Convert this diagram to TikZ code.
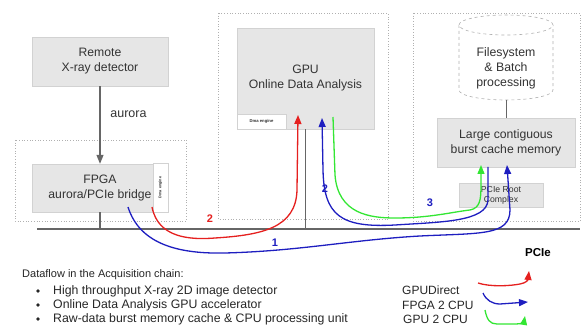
\documentclass[tikz,border=0pt]{standalone}
\usepackage{fontspec}
\setmainfont{Liberation Sans}
\usetikzlibrary{arrows.meta,calc}
\definecolor{boxgray}{HTML}{E6E6E6}
\definecolor{boxedge}{HTML}{D2D2D2}
\definecolor{txtgray}{HTML}{333333}
\definecolor{busgray}{HTML}{666666}
\definecolor{dotgray}{HTML}{B0B0B0}
\definecolor{fred}{HTML}{E5201F}
\definecolor{fblue}{HTML}{1E1EC0}
\definecolor{fgreen}{HTML}{33E633}
\begin{document}
\begin{tikzpicture}[x=1pt,y=-1pt,
  box/.style={fill=boxgray, draw=boxedge, line width=0.4pt, inner sep=0pt, align=center,
    font=\fontsize{12.2}{15}\selectfont, text=txtgray},
  dmabox/.style={fill=white, draw=boxedge, line width=0.6pt, inner sep=0pt, align=center,
    font=\fontsize{3.8}{4.2}\selectfont\bfseries, text=txtgray},
  dotbox/.style={draw=dotgray, dotted, line width=0.7pt},
  busline/.style={draw=busgray, line width=1.5pt},
  conn/.style={draw=busgray, line width=1.2pt},
  flow/.style={line width=1.3pt, -{Triangle[length=9pt,width=7pt]}},
  flowlbl/.style={font=\bfseries\fontsize{11}{12}\selectfont, inner sep=0pt},
  plain/.style={font=\fontsize{12.3}{14}\selectfont, inner sep=0pt, anchor=west, text=black!85},
  legtxt/.style={font=\fontsize{12}{14}\selectfont, inner sep=0pt, anchor=west, text=black!85}
]
\useasboundingbox (0,0) rectangle (582,329);

% dotted grouping boxes
\draw[dotbox] (15,140) rectangle (186,221);
\draw[dotbox] (218,13) rectangle (388,219);
\draw[dotbox] (413,13) rectangle (580,221);

% remote detector
\node[box, minimum width=136pt, minimum height=49pt] (remote) at (100,61.5) {Remote\\X-ray detector};

% FPGA
\node[box, minimum width=136pt, minimum height=48pt] (fpga) at (100,188) {FPGA\\aurora/PCIe bridge};
\node[dmabox, minimum width=15pt, minimum height=49pt] (fdma) at (160.5,187.5) {\rotatebox{90}{Dma engine}};

% aurora link
\draw[conn, -{Triangle[length=9pt,width=7pt]}] (remote.south) -- (fpga.north);
\node[font=\fontsize{12.5}{14}\selectfont, text=txtgray, inner sep=0pt] (aur) at (128.5,114) {aurora};

% GPU
\node[box, minimum width=137pt, minimum height=101pt] (gpu) at (305.5,78.5) {GPU\\Online Data Analysis};
\node[dmabox, minimum width=49pt, minimum height=15pt, font=\fontsize{4.2}{5}\selectfont\bfseries] (gdma) at (261.5,121.5) {Dma engine};

% filesystem cylinder
\draw[dashed, draw=dotgray, fill=white, line width=0.6pt]
  (459,25) -- (459,90) arc[start angle=180, end angle=360, x radius=47pt, y radius=10pt]
  -- (553,25);
\draw[dashed, draw=dotgray, fill=white, line width=0.6pt] (506,25) ellipse[x radius=47pt, y radius=10pt];
\node[font=\fontsize{12.3}{15}\selectfont, text=txtgray, align=center, inner sep=0pt] (fs) at (506,68) {Filesystem\\\&~Batch\\processing};
\coordinate (fsb) at (506,100);

% memory
\node[box, minimum width=138pt, minimum height=49pt] (mem) at (506,142.5) {Large contiguous\\burst cache memory};
\draw[draw=busgray, line width=0.8pt] (fsb) -- (mem.north);

% root complex
\node[box, minimum width=84pt, minimum height=24pt, font=\fontsize{8.7}{10}\selectfont] (root) at (501,195) {PCIe Root\\Complex};

% bus
\coordinate (busL) at (37,229);
\coordinate (busR) at (580,229);
\draw[draw=boxedge, line width=0.6pt] ($(root.south)+(2,0)$) -- ($(root.south)+(2,0)$ |- busL);
\draw[conn] (fpga.south) -- (fpga.south |- busL);
\draw[conn] (gpu.south) -- (gpu.south |- busL);
\draw[busline] (busL) -- (busR);

% flows
\coordinate (redS) at (152,207);
\coordinate (redE) at (298,115);
\draw[flow, fred] (redS) .. controls (158,238) and (190,240) .. (215,238)
  .. controls (262,235) and (296,228) .. (297,190) -- (redE);

\coordinate (b1S) at (128,207);
\coordinate (b1E) at (507,165);
\draw[flow, fblue] (b1S) .. controls (140,245) and (180,254) .. (225,253)
  .. controls (300,251) and (350,240) .. (420,236)
  .. controls (480,233) and (510,236) .. (510,210) -- (b1E);

\coordinate (b2S) at (488,167);
\coordinate (b2E) at (322,118);
\draw[flow, fblue] (b2S) -- (488,200) .. controls (487,222) and (440,222) .. (395,225)
  .. controls (340,228) and (324,215) .. (323,170) -- (b2E);

\coordinate (gS) at (333,117);
\coordinate (gE) at (481,165);
\draw[flow, fgreen] (gS) -- (335,175) .. controls (338,214) and (370,218) .. (395,218)
  .. controls (430,218) and (452,212) .. (470,210)
  .. controls (480,208) and (481,200) .. (481,185) -- (gE);

\node[flowlbl, text=fred] (l2r) at (210,219) {2};
\node[flowlbl, text=fblue] (l2b) at (325,189) {2};
\node[flowlbl, text=fblue] (l3) at (430,203) {3};
\node[flowlbl, text=fblue] (l1) at (275,243) {1};

% bottom text
\node[plain, font=\fontsize{11}{13}\selectfont] (title) at (22,275) {Dataflow in the Acquisition chain:};
\foreach \yy/\txt/\nm in {291/High throughput X-ray 2D image detector/ia,
                          305/Online Data Analysis GPU accelerator/ib,
                          319/Raw-data burst memory cache \& CPU processing unit/ic}{
  \fill[black!85] (38,\yy) circle[radius=1.8pt];
  \node[plain] (\nm) at (53,\yy) {\txt};
}

% legend
\node[font=\bfseries\fontsize{11.5}{13}\selectfont, inner sep=0pt] (pcie) at (538,253) {PCIe};
\node[legtxt] (lg1) at (402,290) {GPUDirect};
\node[legtxt] (lg2) at (402,305) {FPGA 2 CPU};
\node[legtxt] (lg3) at (403,319) {GPU 2 CPU};

\coordinate (r1) at (478,283);
\coordinate (r2) at (529,271);
\draw[flow, fred] (r1) .. controls (490,287) and (510,286) .. (520,284)
  .. controls (526,283) and (528,280) .. (r2);
\coordinate (bl1) at (483,293);
\coordinate (bl2) at (528,302);
\draw[flow, fblue] (bl1) .. controls (486,300) and (492,304) .. (500,304) -- (bl2);
\coordinate (g1) at (485,310);
\coordinate (g2) at (525,316);
\draw[flow, fgreen] (g1) .. controls (487,320) and (490,324) .. (497,324) -- (516,324)
  .. controls (521,324) and (524,322) .. (g2);
\end{tikzpicture}
\end{document}
